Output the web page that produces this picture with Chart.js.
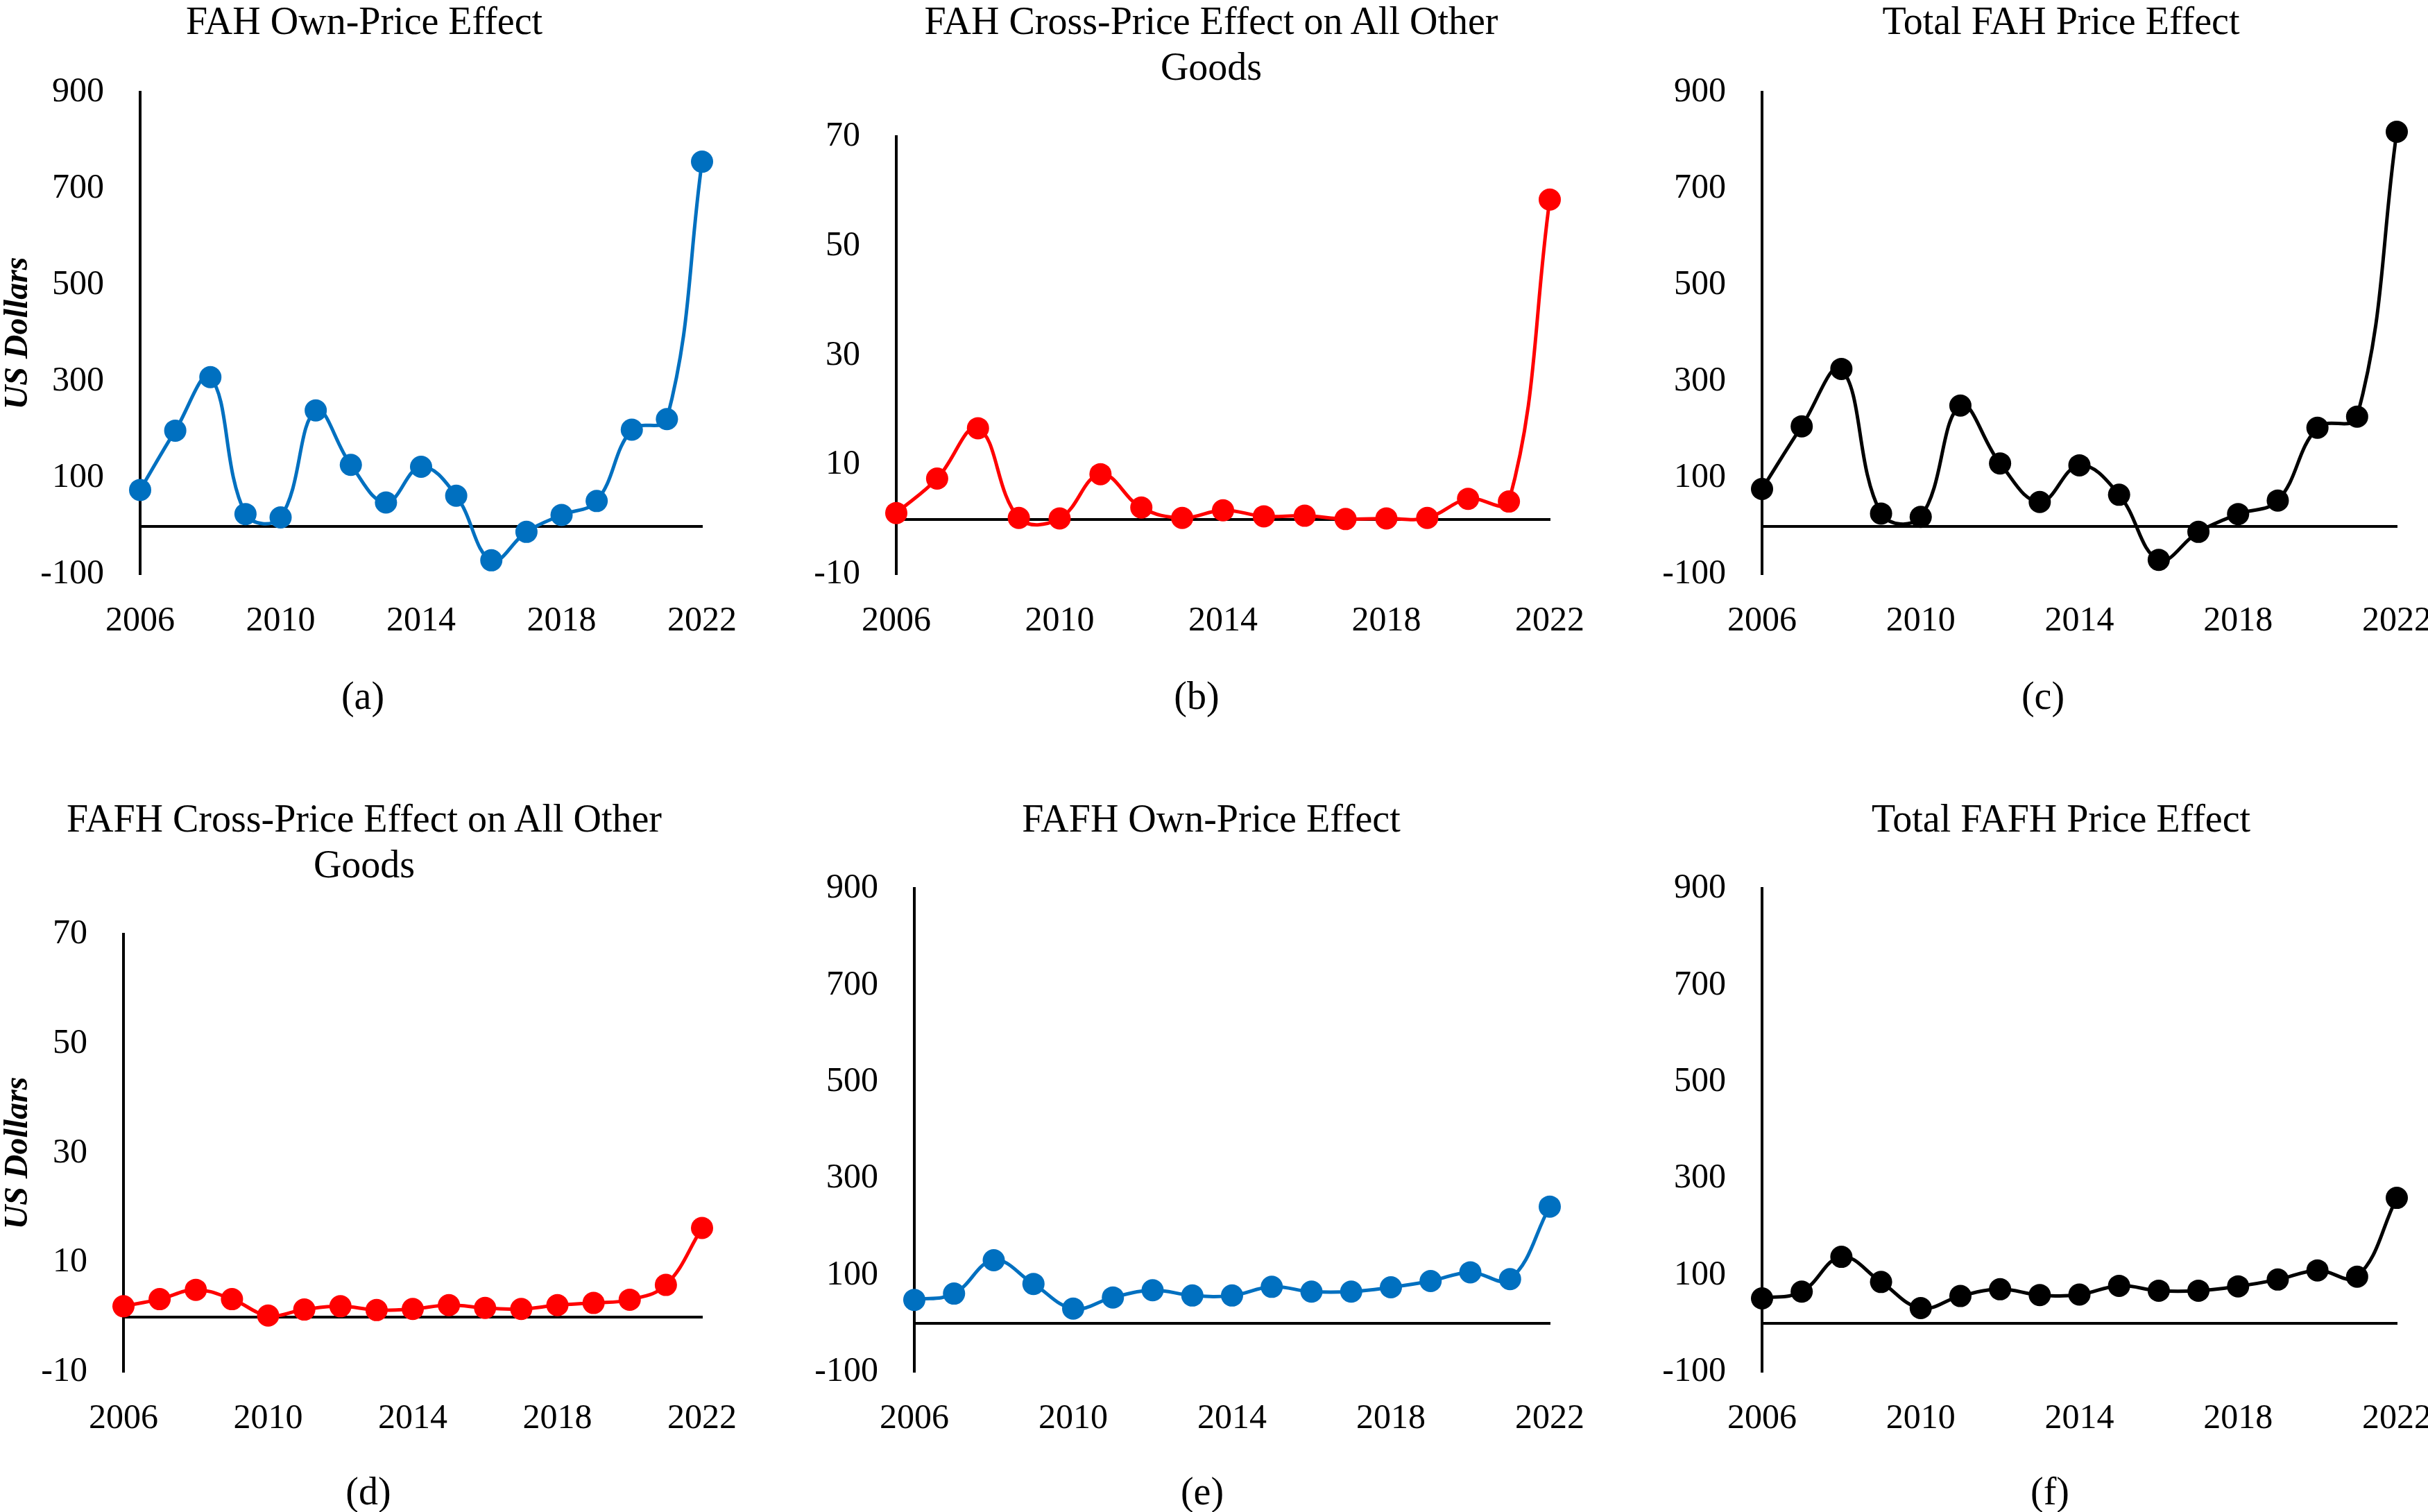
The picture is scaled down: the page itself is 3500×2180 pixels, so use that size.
<!DOCTYPE html>
<html>
<head>
<meta charset="utf-8">
<script src="https://cdn.jsdelivr.net/npm/chart.js@4.4.1/dist/chart.umd.min.js"></script>
<style>
  body {
    margin: 0;
    width: 3500px;
    height: 2180px;
    overflow: hidden;
    background: #fff;
    position: relative;
    font-family: "Liberation Serif", "Times New Roman", serif;
    color: #000;
  }
  canvas { position: absolute; }
  .title, .caption {
    position: absolute;
    text-align: center;
    font-size: 56px;
    line-height: 66px;
    white-space: nowrap;
  }
</style>
</head>
<body>
<script>
// data (US dollars per year)
const years = ["2006", "2007", "2008", "2009", "2010", "2011", "2012", "2013", "2014",
  "2015", "2016", "2017", "2018", "2019", "2020", "2021", "2022"];
const yearTicks = ["2006", "2010", "2014", "2018", "2022"];

const fahOwn = [75, 198, 309, 25, 18, 240, 127, 49, 123, 63, -71, -12, 23, 52, 200, 222, 756];
const fahCross = [1.2, 7.5, 16.7, 0.3, 0.2, 8.3, 2.2, 0.3, 1.7, 0.6, 0.7, 0.1, 0.2, 0.3, 3.8, 3.3, 58.5];
const fahTotal = [77, 207, 326, 26, 19, 250, 130, 50, 126, 65, -70, -12, 25, 53, 204, 227, 818];
const fafhCross = [2.0, 3.3, 5.0, 3.3, 0.3, 1.4, 2.0, 1.3, 1.5, 2.2, 1.7, 1.5, 2.2, 2.6, 3.2, 5.9, 16.3];
const fafhOwn = [49, 62, 131, 82, 31, 54, 69, 58, 58, 76, 66, 66, 75, 88, 106, 92, 242];
const fafhTotal = [52, 66, 138, 86, 32, 57, 71, 59, 60, 78, 68, 68, 77, 91, 110, 97, 260];

const bigTicks = [-100, 100, 300, 500, 700, 900];
const smallTicks = [-10, 10, 30, 50, 70];

const BLUE = "#0070C0";
const RED = "#FF0000";
const BLACK = "#000000";

Chart.defaults.font.family = "'Liberation Serif', 'Times New Roman', serif";
Chart.defaults.color = "#000";

// one entry per panel: where the canvas sits and where the plot area must land
const panels = [
  { title: "FAH Own-Price Effect", caption: "(a)", data: fahOwn, color: BLUE, ticks: bigTicks, yTitle: true,
    cx: 525, titleTop: -3, capX: 523, capY: 1003,
    left: 0, width: 1170, top: 0, height: 960, areaLeft: 202, areaRight: 1012, areaTop: 133, areaBottom: 828 },
  { title: "FAH Cross-Price Effect on All Other<br>Goods", caption: "(b)", data: fahCross, color: RED, ticks: smallTicks, yTitle: false,
    cx: 1746, titleTop: -3, capX: 1725, capY: 1003,
    left: 1170, width: 1170, top: 0, height: 960, areaLeft: 1292, areaRight: 2234, areaTop: 197, areaBottom: 828 },
  { title: "Total FAH Price Effect", caption: "(c)", data: fahTotal, color: BLACK, ticks: bigTicks, yTitle: false,
    cx: 2971, titleTop: -3, capX: 2945, capY: 1003,
    left: 2330, width: 1230, top: 0, height: 960, areaLeft: 2540, areaRight: 3455, areaTop: 133, areaBottom: 828 },
  { title: "FAFH Cross-Price Effect on All Other<br>Goods", caption: "(d)", data: fafhCross, color: RED, ticks: smallTicks, yTitle: true,
    cx: 525, titleTop: 1147, capX: 531, capY: 2150,
    left: 0, width: 1170, top: 1090, height: 1010, areaLeft: 178, areaRight: 1012, areaTop: 1347, areaBottom: 1978 },
  { title: "FAFH Own-Price Effect", caption: "(e)", data: fafhOwn, color: BLUE, ticks: bigTicks, yTitle: false,
    cx: 1746, titleTop: 1147, capX: 1733, capY: 2150,
    left: 1170, width: 1170, top: 1090, height: 1010, areaLeft: 1318, areaRight: 2234, areaTop: 1281, areaBottom: 1978 },
  { title: "Total FAFH Price Effect", caption: "(f)", data: fafhTotal, color: BLACK, ticks: bigTicks, yTitle: false,
    cx: 2971, titleTop: 1147, capX: 2955, capY: 2150,
    left: 2330, width: 1230, top: 1090, height: 1010, areaLeft: 2540, areaRight: 3455, areaTop: 1281, areaBottom: 1978 }
];

const X_AXIS_H = 100;

function addText(cls, html, cx, top) {
  const div = document.createElement("div");
  div.className = cls;
  div.innerHTML = html;
  div.style.width = "1100px";
  div.style.left = (cx - 550) + "px";
  div.style.top = top + "px";
  document.body.appendChild(div);
}

panels.forEach(function (p) {
  addText("title", p.title, p.cx, p.titleTop);
  addText("caption", p.caption, p.capX, p.capY - 33);

  const canvas = document.createElement("canvas");
  canvas.width = p.width;
  canvas.height = p.height;
  canvas.style.left = p.left + "px";
  canvas.style.top = p.top + "px";
  canvas.style.width = p.width + "px";
  canvas.style.height = p.height + "px";
  document.body.appendChild(canvas);

  const yWidth = p.areaLeft - p.left;

  new Chart(canvas.getContext("2d"), {
    type: "line",
    data: {
      labels: years,
      datasets: [{
        data: p.data,
        borderColor: p.color,
        backgroundColor: p.color,
        borderWidth: 5,
        pointRadius: 16,
        pointHoverRadius: 16,
        pointBorderWidth: 0,
        pointBackgroundColor: p.color,
        tension: 0.4,
        clip: false
      }]
    },
    options: {
      responsive: false,
      devicePixelRatio: 1,
      animation: false,
      events: [],
      layout: {
        padding: {
          left: 0,
          top: p.areaTop - p.top,
          right: p.left + p.width - p.areaRight,
          bottom: p.top + p.height - p.areaBottom - X_AXIS_H
        }
      },
      plugins: {
        legend: { display: false },
        tooltip: { enabled: false },
        title: { display: false }
      },
      scales: {
        x: {
          type: "category",
          offset: false,
          grid: { display: false },
          border: { display: false },
          ticks: {
            autoSkip: false,
            maxRotation: 0,
            padding: 30,
            font: { size: 50 },
            callback: function (val, i) {
              const lab = this.getLabelForValue(val);
              return yearTicks.includes(lab) ? lab : "";
            }
          },
          afterFit: function (scale) {
            scale.height = X_AXIS_H;
          }
        },
        // horizontal axis line crossing at zero, like the Excel original
        xZero: {
          type: "category",
          position: { y: 0 },
          offset: false,
          grid: { display: false },
          border: { display: true, color: "#000", width: 4 },
          ticks: { display: false }
        },
        y: {
          min: p.ticks[0],
          max: p.ticks[p.ticks.length - 1],
          grid: { display: false },
          border: { display: true, color: "#000", width: 4 },
          title: {
            display: p.yTitle,
            text: "US Dollars",
            padding: 0,
            font: { size: 48, weight: "bold", style: "italic", lineHeight: 1.1 }
          },
          ticks: {
            padding: 44,
            font: { size: 50 }
          },
          afterBuildTicks: function (scale) {
            scale.ticks = p.ticks.map(function (v) { return { value: v }; });
          },
          afterFit: function (scale) {
            scale.width = yWidth;
          }
        }
      }
    }
  });
});
</script>
</body>
</html>
